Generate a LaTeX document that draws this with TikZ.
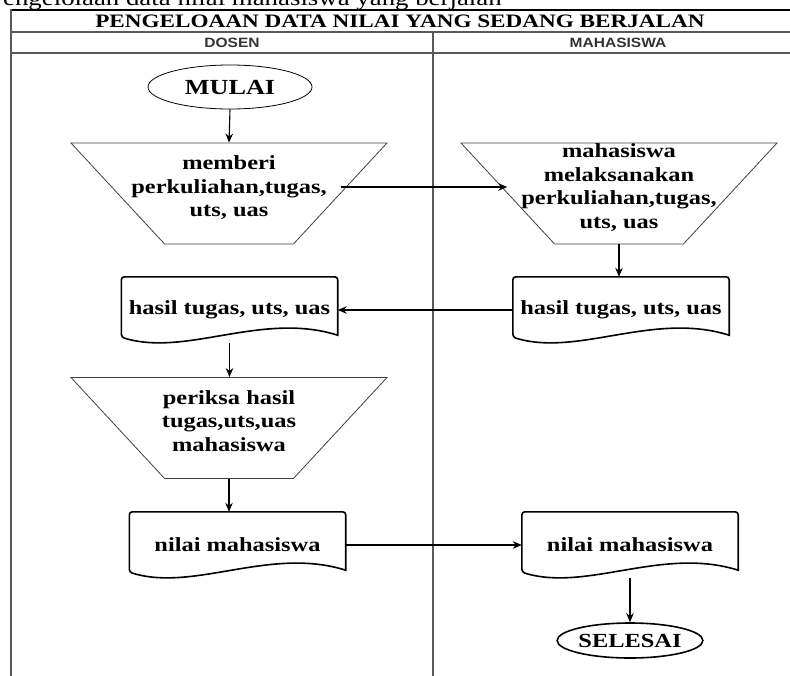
\documentclass[tikz,border=0pt]{standalone}
\usepackage{fontspec}
\setmainfont{Liberation Serif}[FakeStretch=1.22]
\newfontfamily\headfont{Liberation Sans}[FakeStretch=1.15]
\usetikzlibrary{calc}
\usetikzlibrary{shapes.geometric}
\usetikzlibrary{arrows.meta}

\newcommand{\flowfont}{\bfseries\fontsize{20}{23.5}\selectfont}
\newcommand{\stacktext}[1]{\raisebox{0pt}[1pt][1pt]{\makebox[2pt]{\begin{tabular}{@{}c@{}}#1\end{tabular}}}}

\tikzset{
  lane/.style={draw=black!65, line width=1.4pt},
  lanehead/.style={font=\headfont\bfseries\fontsize{13.5}{15}\selectfont, text=black!80},
  manual/.style={trapezium, trapezium stretches=true, shape border rotate=180,
    trapezium angle=54, minimum width=316pt, minimum height=101pt,
    draw=black!75, line width=0.8pt, inner sep=0pt, font=\flowfont},
  docbox/.style={minimum width=216pt, minimum height=66pt, inner sep=0pt, font=\flowfont,
    append after command={\pgfextra{
      \draw[line width=1.6pt]
        ($(\tikzlastnode.south east)+(0,-8)$) [rounded corners=3pt]
        -- (\tikzlastnode.north east) -- (\tikzlastnode.north west)
        -- ($(\tikzlastnode.south west)+(0,-6)$) [sharp corners]
        .. controls +(65,20) and +(-76,-24) .. ($(\tikzlastnode.south east)+(0,-8)$) -- cycle;
    }}},
  terminal/.style={ellipse, draw, inner sep=0pt, font=\flowfont},
  flow/.style={->, line width=1.1pt},
}

\begin{document}
\begin{tikzpicture}[x=1pt,y=-1pt,>={Stealth[length=9pt,width=7.5pt]}]
  \useasboundingbox (0,0) rectangle (790,675);
  \clip (0,0) rectangle (790,675);
  % caption, cut off by the screenshot
  \node[anchor=base west, inner sep=0pt, font=\fontsize{22}{24}\selectfont] (caption) at (-12,5)
    {Pengelolaan data nilai mahasiswa yang berjalan};
  % swimlane frame
  \draw[line width=2pt] (11,10) -- (795,10);
  \draw[lane] (11,32) -- (795,32);
  \draw[lane] (11,53) -- (795,53);
  \draw[lane] (11,9) -- (11,680);
  \draw[lane] (433,32) -- (433,680);
  \node[font=\bfseries\fontsize{19}{21}\selectfont] (title) at (400,21.5)
    {PENGELOAAN DATA NILAI YANG SEDANG BERJALAN};
  \node[lanehead] (dosen) at (232,43) {DOSEN};
  \node[lanehead] (mhs) at (618,43) {MAHASISWA};

  % flow
  \node[terminal, minimum width=164pt, minimum height=44pt, line width=0.8pt,
    font=\bfseries\fontsize{21.5}{24}\selectfont] (mulai) at (230,87) {MULAI};
  \node[manual] (t1) at (229,193.5) {\stacktext{memberi\\perkuliahan,tugas,\\uts, uas}};
  \node[manual] (t2) at (619,193.5) {\stacktext{mahasiswa\\melaksanakan\\perkuliahan,tugas,\\uts, uas}};
  \node[docbox] (d1) at (229.5,310) {hasil tugas, uts, uas};
  \node[docbox] (d2) at (621,310) {hasil tugas, uts, uas};
  \node[manual] (t3) at (229,428) {\stacktext{periksa hasil\\tugas,uts,uas\\mahasiswa}};
  \node[docbox] (d3) at (237.5,545) {nilai mahasiswa};
  \node[docbox] (d4) at (630,545) {nilai mahasiswa};
  \node[terminal, minimum width=138pt, minimum height=35pt, line width=1.6pt] (selesai) at (630,640.5) {SELESAI};

  \draw[flow] (mulai.south) -- (t1.north);
  \draw[flow] ([yshift=6.5pt]t1.east) -- ([yshift=6.5pt]t2.west);
  \draw[flow] (t2.south) -- (t2.south |- d2.north);
  \draw[flow] (d2.west) -- (d1.east);
  \draw[flow] (d1.south) -- (d1.south |- t3.north);
  \draw[flow] (t3.south) -- (t3.south |- d3.north);
  \draw[flow] (d3.east) -- (d4.west);
  \draw[flow] (d4.south) -- (selesai.north);
\end{tikzpicture}
\end{document}
